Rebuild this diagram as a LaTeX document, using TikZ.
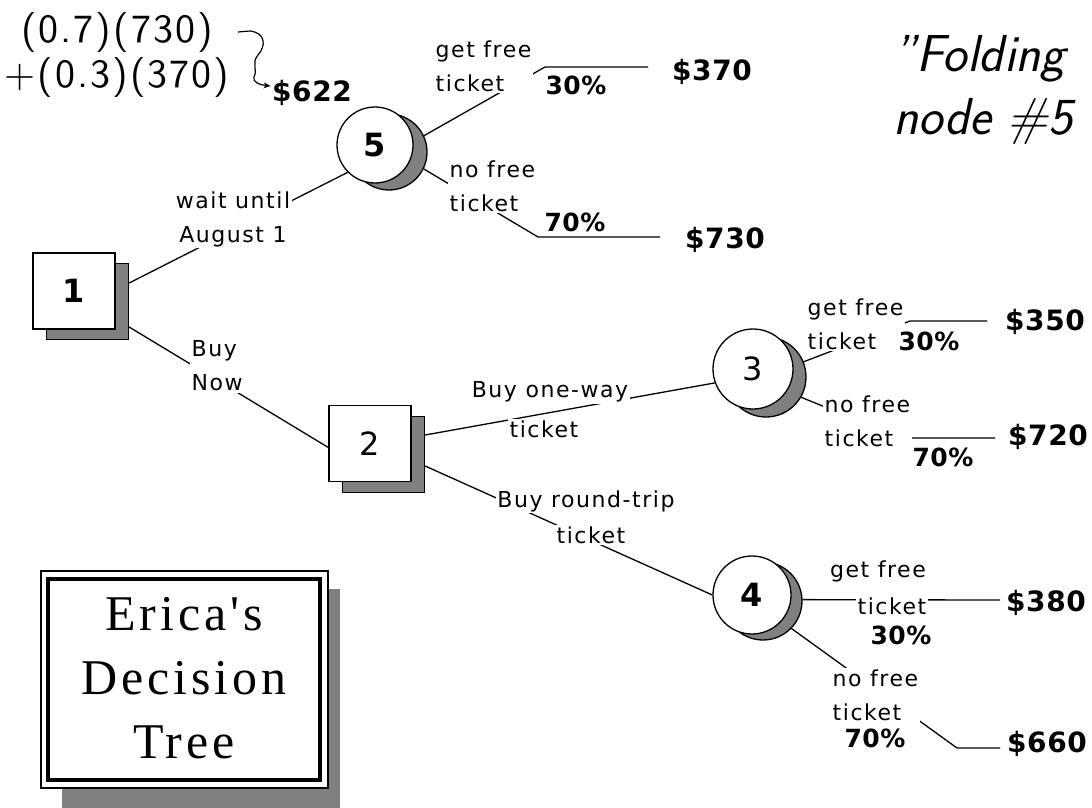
\documentclass[tikz,border=0pt]{standalone}
\usepackage{fontspec}
\usetikzlibrary{calc,arrows.meta}
\pgfdeclarelayer{bg}
\pgfsetlayers{bg,main}
\newfontfamily\gen[LetterSpace=7]{DejaVu Sans}
\newfontfamily\genb[LetterSpace=2]{DejaVu Sans}
\newfontfamily\tms[LetterSpace=8]{Liberation Serif}
\newfontfamily\lmwide[LetterSpace=5]{lmsans10-regular.otf}
\begin{document}
\begin{tikzpicture}[x=1pt,y=-1pt,line width=1.3pt,
  lbl/.style={font=\gen\fontsize{22}{34}\selectfont,fill=white,inner sep=1.5pt},
  val/.style={font=\genb\bfseries\fontsize{28}{30}\selectfont,inner sep=1pt},
  pct/.style={font=\genb\bfseries\fontsize{25}{28}\selectfont,fill=white,inner sep=1pt},
  numb/.style={font=\genb\bfseries\fontsize{32}{34}\selectfont},
  numr/.style={font=\gen\fontsize{32}{34}\selectfont},
  sq/.style={draw,fill=white,minimum width=82pt,minimum height=76pt,inner sep=0pt},
  sqsh/.style={draw,fill=black!50,minimum width=82pt,minimum height=76pt,inner sep=0pt},
  ci/.style={draw,circle,fill=white,minimum size=#1,inner sep=0pt},
  cish/.style={draw,circle,fill=black!50,minimum size=#1,inner sep=0pt},
  conn/.style={line width=1.3pt}
]
\useasboundingbox (0,0) rectangle (1092,808);

% ---- title frame ----
\fill[black!50] (62,589) rectangle (340,808);
\draw[line width=1.5pt,fill=white] (41,571) rectangle (328,788);
\draw[line width=4pt] (48,579) rectangle (320,780);
\node[font=\tms\fontsize{50}{64}\selectfont,align=center,anchor=north,inner sep=0pt] (title) at (184,597) {Erica's\\Decision\\Tree};

% ---- decision and chance nodes ----
\node[sqsh] (s1) at (87.5,301.5) {};
\node[sq,numb] (b1) at (74,291) {1};
\node[sqsh] (s2) at (383.5,454.5) {};
\node[sq,numr] (b2) at (370,443.5) {2};
\node[cish=76pt] (s5) at (389,152) {};
\node[ci=76pt,numb] (c5) at (375,145) {5};
\node[cish=80pt] (s3) at (766,377) {};
\node[ci=80pt,numr] (c3) at (753,369) {3};
\node[cish=78pt] (s4) at (763,601) {};
\node[ci=78pt,numb] (c4) at (752,595) {4};

% ---- payoff values ----
\node[val] (v622) at (312,93) {\$622};
\node[val] (v370) at (712,72) {\$370};
\node[val] (v730) at (725,240) {\$730};
\node[val] (v350) at (1045,322) {\$350};
\node[val] (v720) at (1048,437) {\$720};
\node[val] (v380) at (1046,603) {\$380};
\node[val] (v660) at (1047,744) {\$660};

% ---- connector end points ----
\coordinate (j5a) at (545,67);  \coordinate (e5a) at (648,67);
\coordinate (j5b) at (538,237); \coordinate (e5b) at (660,237);
\coordinate (j3a) at (910,321); \coordinate (e3a) at (987,321);
\coordinate (j3b) at (902,438); \coordinate (e3b) at (995,438);
\coordinate (e4a) at (1000,600);
\coordinate (j4b) at (957,748); \coordinate (e4b) at (1000,748);
\coordinate (fa) at (238,32);

\begin{pgfonlayer}{bg}
\draw[conn] ([yshift=18.5pt]s1.east) -- (c5.225);
\draw[conn] ([yshift=-25.5pt]s1.east) -- ([yshift=-4pt]b2.west);
\draw[conn] ([yshift=19.5pt]s2.east) -- (c3.200);
\draw[conn] ([yshift=-11.5pt]s2.east) -- (c4.west);
\draw[conn] (s5.25) -- (j5a) -- (e5a);
\draw[conn] (s5.-26) -- (j5b) -- (e5b);
\draw[conn] (s3.22) -- (j3a) -- (e3a);
\draw[conn] (s3.-30) -- (j3b) -- (e3b);
\draw[conn] (s4.2) -- (e4a);
\draw[conn] (s4.-44) -- (j4b) -- (e4b);
\end{pgfonlayer}

% ---- branch labels ----
\node[lbl,align=left,anchor=west] (l5a) at (434,66) {get free\\ticket};
\node[lbl,align=left,anchor=west] (l5b) at (448,186) {no free\\ticket};
\node[lbl,align=center] (l1a) at (233,219) {wait until\\August 1};
\node[lbl,align=left,anchor=west] (l1b) at (190,366) {Buy\\Now};
\node[lbl] (l2a1) at (550,392) {Buy one-way};
\node[lbl] (l2a2) at (544,429) {ticket};
\node[lbl] (l2b1) at (586,501) {Buy round-trip};
\node[lbl] (l2b2) at (591,535) {ticket};
\node[lbl,align=left,anchor=west] (l3a) at (806,324) {get free\\ticket};
\node[lbl,align=left,anchor=west] (l3b) at (823,421) {no free\\ticket};
\node[lbl] (l4a1) at (878,571) {get free};
\node[lbl] (l4a2) at (892,606) {ticket};
\node[lbl,align=left,anchor=west] (l4b) at (831,695) {no free\\ticket};

\node[pct] (p5a) at (576,85) {30\%};
\node[pct] (p5b) at (575,222) {70\%};
\node[pct] (p3a) at (929,341) {30\%};
\node[pct] (p3b) at (943,457) {70\%};
\node[pct] (p4a) at (901,635) {30\%};
\node[pct] (p4b) at (875,738) {70\%};

% ---- expected value note ----
\node[font=\lmwide\fontsize{40}{45}\selectfont,align=center,anchor=north,inner sep=0pt] (form) at (117,12) {(0.7)(730)\\+(0.3)(370)};
\draw[line width=1.2pt,-{Stealth[length=7pt,width=6pt]}] (fa) -- (250,31) .. controls (266,33) and (266,46) .. (258,55) .. controls (251,63) and (258,70) .. (254,77) .. controls (252,82) and (260,85) .. ([yshift=7pt]v622.west);

\node[font=\sffamily\itshape\fontsize{52}{63}\selectfont,align=left,anchor=north west,inner sep=0pt] (fold) at (893,35) {"Folding\\node \#5};
\end{tikzpicture}
\end{document}
